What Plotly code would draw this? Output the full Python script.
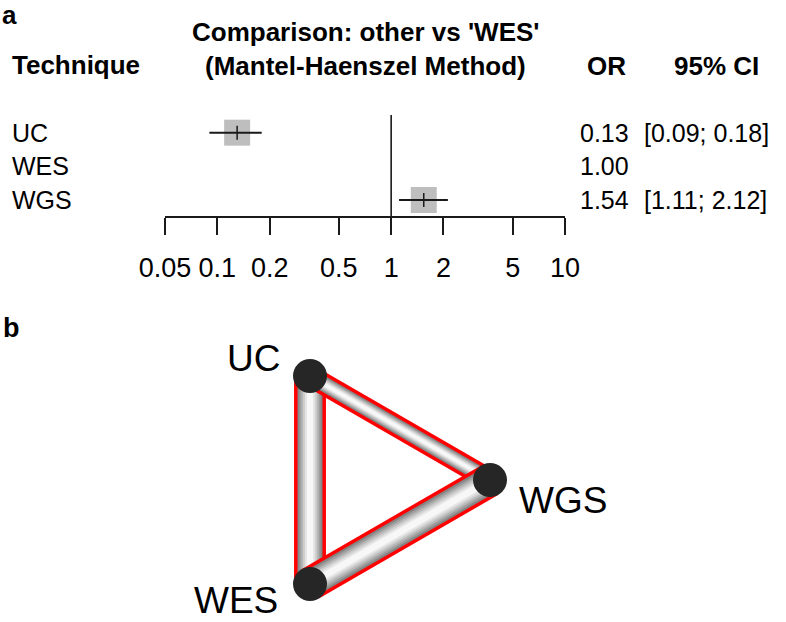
import math
import plotly.graph_objects as go

# panel a: forest plot (other vs 'WES')
techniques = ['UC', 'WES', 'WGS']
odds_ratio = [0.13, 1.00, 1.54]
ci_lower = [0.09, None, 1.11]
ci_upper = [0.18, None, 2.12]
or_text = ['0.13', '1.00', '1.54']
ci_text = ['[0.09; 0.18]', '', '[1.11; 2.12]']
tick_vals = [0.05, 0.1, 0.2, 0.5, 1, 2, 5, 10]
tick_text = ['0.05', '0.1', '0.2', '0.5', '1', '2', '5', '10']

# panel b: network graph
nodes = ['UC', 'WES', 'WGS']
node_x = [-0.5, -0.5, 1.0]
node_y = [0.866, -0.866, 0.0]
edges = [('UC', 'WES'), ('UC', 'WGS'), ('WES', 'WGS')]
edge_weight = [1.45, 1.0, 1.55]

W, H = 786, 622
FONT = 'Liberation Sans, Arial, sans-serif'
INK = '#1a1a1a'


def fx(x):
    return x / W


def fy(y):
    return 1 - y / H


fig = go.Figure()

# forest plot
row_y = [len(techniques) - i for i in range(len(techniques))]
has_ci = [i for i, l in enumerate(ci_lower) if l is not None]
fig.add_trace(go.Scatter(
    x=[odds_ratio[i] for i in has_ci],
    y=[row_y[i] for i in has_ci],
    mode='markers',
    marker=dict(symbol='square', size=26, color='#bebebe'),
    hoverinfo='skip', xaxis='x', yaxis='y'))
fig.add_trace(go.Scatter(
    x=[odds_ratio[i] for i in has_ci],
    y=[row_y[i] for i in has_ci],
    mode='markers',
    marker=dict(symbol='line-ns', size=10, color=INK,
                line=dict(color=INK, width=1.5)),
    error_x=dict(type='data', symmetric=False,
                 array=[ci_upper[i] - odds_ratio[i] for i in has_ci],
                 arrayminus=[odds_ratio[i] - ci_lower[i] for i in has_ci],
                 width=0, thickness=2, color=INK),
    hoverinfo='skip', xaxis='x', yaxis='y'))

# network graph: shaded tubes with red outline
pos = {n: (x, y) for n, x, y in zip(nodes, node_x, node_y)}
shades = [(1.0, '#858585'), (0.85, '#9e9e9e'), (0.7, '#b7b7b7'),
          (0.55, '#cfcfcf'), (0.4, '#e4e4e4'), (0.25, '#f7f7f7')]
for (a, b), w in zip(edges, edge_weight):
    px = w * 22
    xs = [pos[a][0], pos[b][0]]
    ys = [pos[a][1], pos[b][1]]
    fig.add_trace(go.Scatter(x=xs, y=ys, mode='lines',
                             line=dict(color='#ff0000', width=px),
                             hoverinfo='skip', xaxis='x2', yaxis='y2'))
    for k, c in shades:
        fig.add_trace(go.Scatter(x=xs, y=ys, mode='lines',
                                 line=dict(color=c, width=(px - 7) * k),
                                 hoverinfo='skip', xaxis='x2', yaxis='y2'))
fig.add_trace(go.Scatter(x=node_x, y=node_y, mode='markers',
                         marker=dict(size=34, color='#262626'),
                         hoverinfo='skip', xaxis='x2', yaxis='y2'))

ann = []


def text(s, x, y, size, bold=False, xanchor='center', xref='paper', yref='paper', **kw):
    ann.append(dict(text='<b>%s</b>' % s if bold else s, x=x, y=y, xref=xref, yref=yref,
                    xanchor=xanchor, yanchor='middle', showarrow=False,
                    font=dict(size=size, color='black', family=FONT), **kw))


text('a', fx(0), fy(15), 26, bold=True, xanchor='left')
text('b', fx(1), fy(328), 27, bold=True, xanchor='left')
text("Comparison: other vs 'WES'", fx(366), fy(32), 26, bold=True)
text('(Mantel-Haenszel Method)', fx(365), fy(66), 26, bold=True)
text('Technique', fx(10), fy(65), 26, bold=True, xanchor='left')
text('OR', fx(606), fy(66), 26, bold=True)
text('95% CI', fx(716), fy(66), 26, bold=True)
for t, y, o, c in zip(techniques, row_y, or_text, ci_text):
    text(t, fx(10), y, 25, xanchor='left', yref='y')
    text(o, fx(631), y, 25, xanchor='right', yref='y')
    if c:
        text(c, fx(642), y, 25, xanchor='left', yref='y')

label_off = {'UC': ('right', -28, 18), 'WGS': ('left', 27, -20), 'WES': ('right', -30, -17)}
for n, x, y in zip(nodes, node_x, node_y):
    xa, dx, dy = label_off[n]
    text(n, x, y, 37, xanchor=xa, xref='x2', yref='y2', xshift=dx, yshift=dy)

fig.update_layout(
    width=W, height=H,
    margin=dict(l=0, r=0, t=0, b=0, autoexpand=False),
    plot_bgcolor='white', paper_bgcolor='white',
    showlegend=False,
    font=dict(family=FONT, color='black'),
    annotations=ann,
    shapes=[dict(type='line', xref='x', yref='y domain', x0=1, x1=1, y0=0, y1=1,
                 line=dict(color=INK, width=1.6))],
    xaxis=dict(domain=[fx(165), fx(565)], type='log',
               range=[math.log10(tick_vals[0]), math.log10(tick_vals[-1])],
               tickvals=tick_vals, ticktext=tick_text,
               showline=True, linecolor=INK, linewidth=2,
               ticks='outside', ticklen=17, tickwidth=2, tickcolor=INK,
               tickfont=dict(size=27, color='black', family=FONT),
               ticklabelstandoff=10, automargin=False,
               showgrid=False, zeroline=False, fixedrange=True),
    yaxis=dict(domain=[fy(216), fy(115)], range=[0.525, 3.525], visible=False,
               automargin=False, fixedrange=True),
    xaxis2=dict(domain=[fx(130), fx(610)], range=[-2, 2], visible=False,
                automargin=False, fixedrange=True),
    yaxis2=dict(domain=[fy(612), fy(348)], range=[-1.1, 1.1], visible=False,
                automargin=False, fixedrange=True),
)

fig.write_html('out.html', config={'displayModeBar': False},
               post_script="document.body.style.margin='0';document.body.style.overflow='hidden';")
